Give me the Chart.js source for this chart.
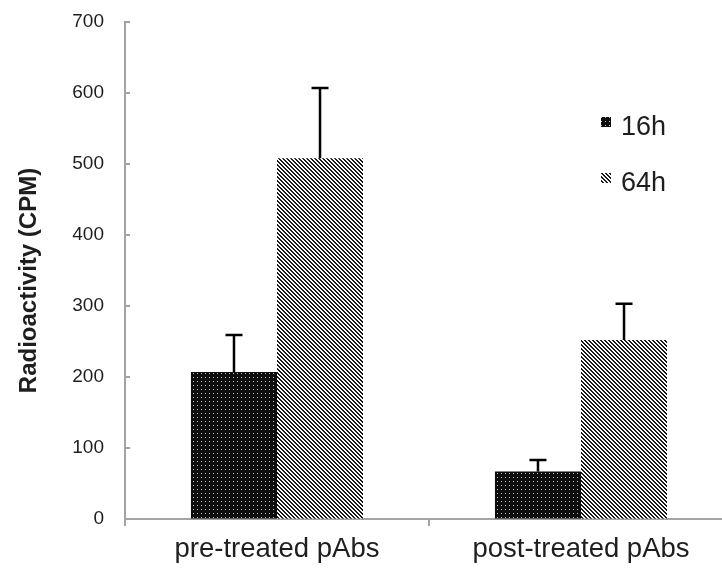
<!DOCTYPE html>
<html>
<head>
<meta charset="utf-8">
<script src="https://cdn.jsdelivr.net/npm/chart.js@4/dist/chart.umd.min.js"></script>
<style>
html,body{margin:0;padding:0;background:#fff;overflow:hidden;width:722px;height:571px;}
canvas{display:block;}
</style>
</head>
<body>
<canvas id="c" width="740" height="571"></canvas>
<script>
const categories = ['pre-treated pAbs', 'post-treated pAbs'];
const seriesLabels = ['16h', '64h'];
const values16h = [207, 67];
const values64h = [508, 252];
const errors16h = [52, 16];
const errors64h = [99, 51];
const yMin = 0, yMax = 700, yStep = 100;
const yTitle = 'Radioactivity (CPM)';

function dotPattern() {
  const c = document.createElement('canvas');
  c.width = 4; c.height = 4;
  const g = c.getContext('2d');
  g.fillStyle = '#0d0d0d'; g.fillRect(0, 0, 4, 4);
  g.fillStyle = '#c4c4c4'; g.fillRect(1, 1, 1, 1);
  return g.createPattern(c, 'repeat');
}
function stripePattern() {
  const c = document.createElement('canvas');
  c.width = 4; c.height = 4;
  const g = c.getContext('2d');
  g.fillStyle = '#ffffff'; g.fillRect(0, 0, 4, 4);
  g.fillStyle = '#1a1a1a';
  for (let y = 0; y < 4; y++) for (let x = 0; x < 4; x++) {
    const d = ((x - y) % 4 + 4) % 4;
    if (d === 0 || d === 1) g.fillRect(x, y, 1, 1);
  }
  return g.createPattern(c, 'repeat');
}

const axisColor = '#a3a3a3';
const textColor = '#1e1e1e';
const FONT = "'Liberation Sans', Arial, sans-serif";

const errorBars = {
  id: 'errorBars',
  afterDatasetsDraw(chart) {
    const ctx = chart.ctx;
    const ys = chart.scales.y;
    ctx.save();
    ctx.strokeStyle = '#000';
    ctx.lineWidth = 2.5;
    chart.data.datasets.forEach((ds, di) => {
      const meta = chart.getDatasetMeta(di);
      meta.data.forEach((bar, i) => {
        const top = ys.getPixelForValue(ds.data[i] + ds.errors[i]);
        const base = ys.getPixelForValue(ds.data[i]);
        ctx.beginPath();
        ctx.moveTo(bar.x, base);
        ctx.lineTo(bar.x, top);
        ctx.moveTo(bar.x - 8.5, top);
        ctx.lineTo(bar.x + 8.5, top);
        ctx.stroke();
      });
    });
    ctx.restore();
  }
};

const innerTicks = {
  id: 'innerTicks',
  afterDraw(chart) {
    const ctx = chart.ctx;
    const ys = chart.scales.y;
    const x0 = chart.chartArea.left;
    ctx.save();
    ctx.strokeStyle = axisColor;
    ctx.lineWidth = 2;
    ys.ticks.forEach(t => {
      const y = ys.getPixelForValue(t.value);
      ctx.beginPath();
      ctx.moveTo(x0, y);
      ctx.lineTo(x0 + 5, y);
      ctx.stroke();
    });
    ctx.restore();
  }
};

const axisTitle = {
  id: 'axisTitle',
  afterDraw(chart) {
    const ctx = chart.ctx;
    const a = chart.chartArea;
    ctx.save();
    ctx.translate(29.5, (a.top + a.bottom) / 2 + 10);
    ctx.rotate(-Math.PI / 2);
    ctx.font = 'bold 24px ' + FONT;
    ctx.fillStyle = textColor;
    ctx.textAlign = 'center';
    ctx.textBaseline = 'middle';
    ctx.fillText(yTitle, 0, 0);
    ctx.restore();
  }
};

const customLegend = {
  id: 'customLegend',
  afterDraw(chart) {
    const ctx = chart.ctx;
    ctx.save();
    ctx.font = '27px ' + FONT;
    ctx.textBaseline = 'alphabetic';
    const rows = [135, 191];
    chart.data.datasets.forEach((ds, i) => {
      const base = rows[i];
      ctx.fillStyle = ds.backgroundColor;
      ctx.fillRect(601, base - 18, 10, 10);
      ctx.fillStyle = textColor;
      ctx.fillText(ds.label, 621, base);
    });
    ctx.restore();
  }
};

new Chart(document.getElementById('c'), {
  type: 'bar',
  data: {
    labels: categories,
    datasets: [
      { label: seriesLabels[0], data: values16h, errors: errors16h, backgroundColor: dotPattern() },
      { label: seriesLabels[1], data: values64h, errors: errors64h, backgroundColor: stripePattern() }
    ]
  },
  options: {
    responsive: false,
    animation: false,
    layout: { padding: { top: 22, right: 7, left: 0, bottom: 0 } },
    datasets: { bar: { categoryPercentage: 0.566, barPercentage: 1.0, borderWidth: 0 } },
    plugins: { legend: { display: false }, tooltip: { enabled: false } },
    scales: {
      x: {
        z: 1,
        offset: true,
        grid: { display: true, offset: true, drawOnChartArea: false, drawTicks: true, tickLength: 7, color: axisColor, lineWidth: 2 },
        border: { display: true, color: axisColor, width: 2 },
        ticks: { color: textColor, font: { family: FONT, size: 27.5 }, padding: 7, maxRotation: 0 },
        afterFit(s) { s.height = 52; }
      },
      y: {
        z: 1,
        min: yMin, max: yMax,
        grid: { display: true, drawOnChartArea: false, drawTicks: true, tickLength: 19, tickColor: 'rgba(0,0,0,0)' },
        border: { display: true, color: axisColor, width: 2 },
        ticks: { stepSize: yStep, color: textColor, font: { family: FONT, size: 19 }, padding: 2 },
        title: { display: false },
        afterFit(s) { s.width = 125; }
      }
    }
  },
  plugins: [errorBars, innerTicks, axisTitle, customLegend]
});
</script>
</body>
</html>
